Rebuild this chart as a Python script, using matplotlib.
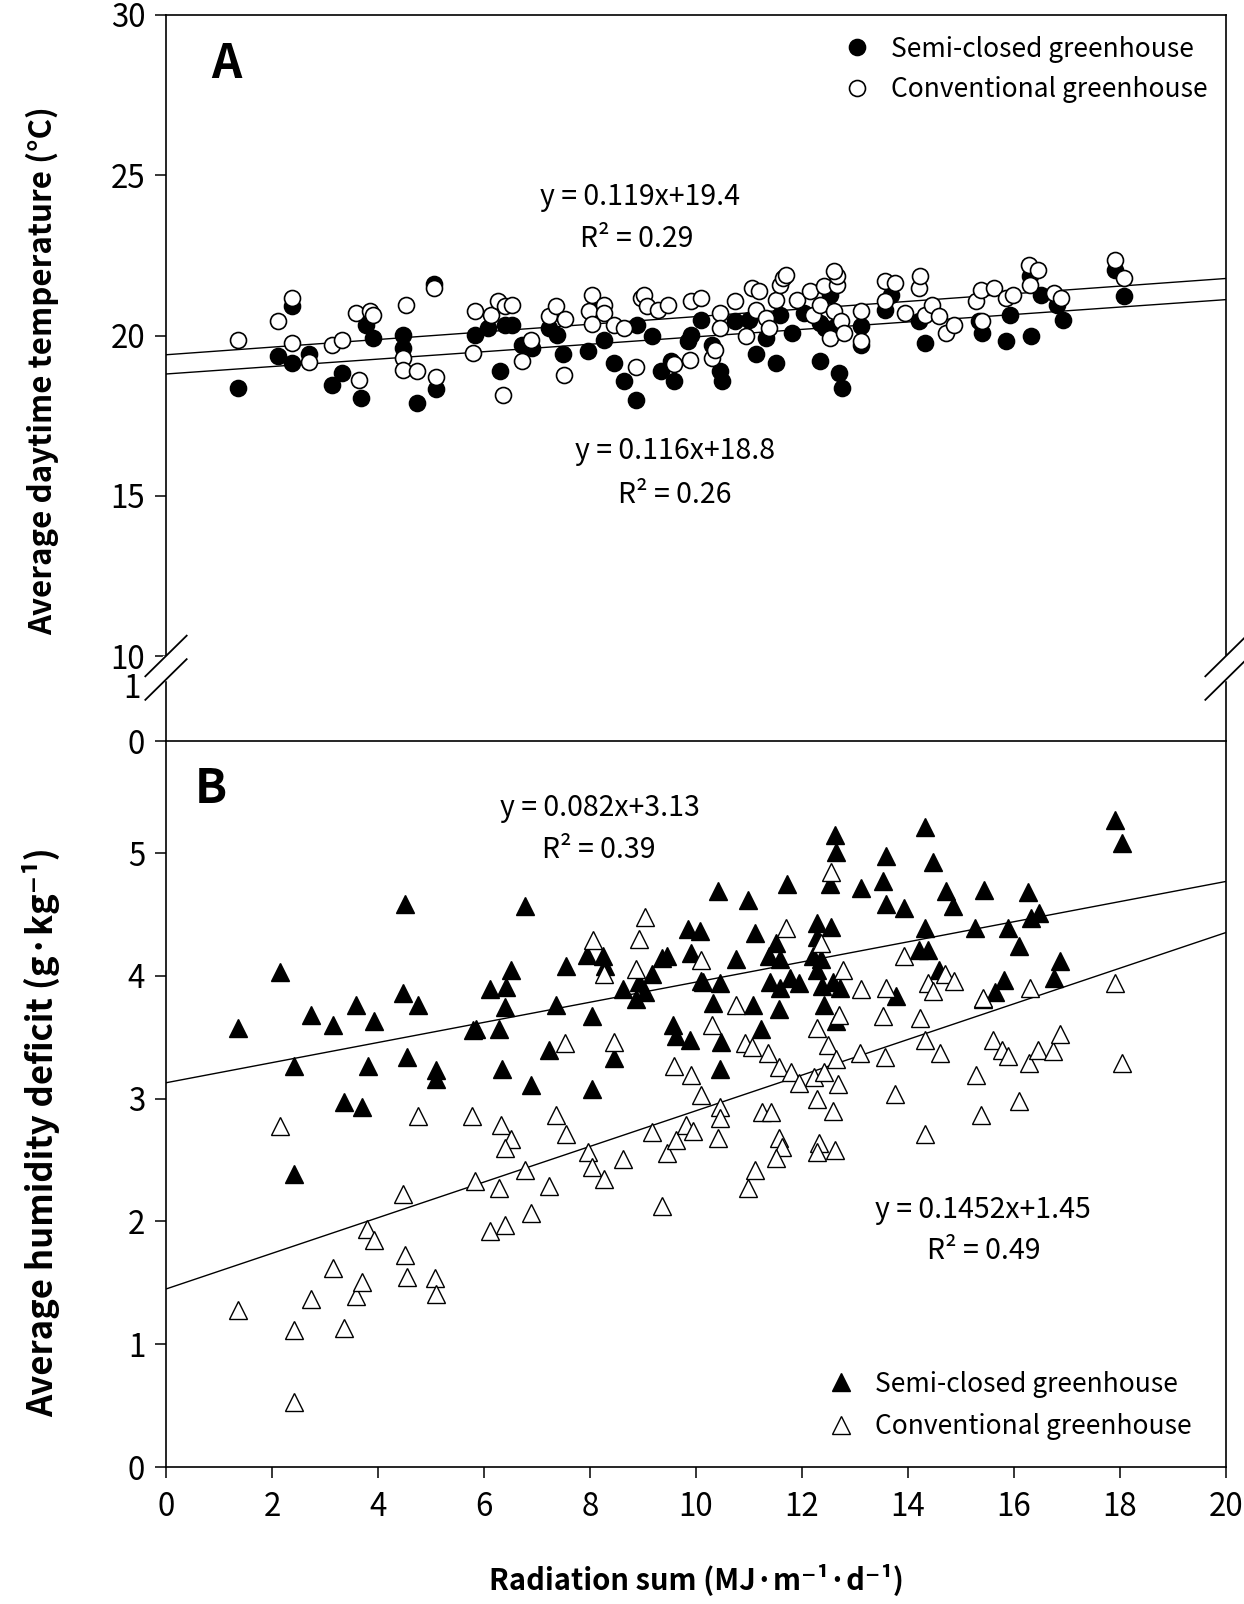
import numpy as np
import matplotlib
matplotlib.use("Agg")
import matplotlib.pyplot as plt

plt.rcParams['font.family'] = ['Noto Sans CJK KR', 'DejaVu Sans']

# ---- panel A: average daytime temperature ----
semi_x_A = [1.35, 2.12, 2.37, 2.37, 2.70, 3.14, 3.33, 3.68, 3.78, 3.91, 4.48, 4.48, 4.74, 5.06, 5.10,
            5.83, 6.08, 6.31, 6.40, 6.53, 6.72, 6.91, 7.23, 7.38, 7.49, 7.96, 8.12, 8.26, 8.45, 8.64,
            8.87, 8.89, 9.17, 9.34, 9.53, 9.59, 9.85, 9.91, 10.10, 10.30, 10.45, 10.49, 10.74, 11.00,
            11.13, 11.32, 11.51, 11.58, 11.81, 12.03, 12.34, 12.34, 12.44, 12.69, 12.76, 12.53, 12.66,
            13.11, 13.11, 13.56, 13.68, 14.20, 14.32, 15.34, 15.40, 15.85, 15.92, 16.30, 16.33, 16.50,
            16.81, 16.92, 17.90, 18.07]
semi_y_A = [18.37, 19.35, 19.15, 20.91, 19.41, 18.47, 18.84, 18.04, 20.34, 19.93, 20.03, 19.62, 17.90,
            21.61, 18.32, 20.03, 20.24, 18.89, 20.34, 20.34, 19.72, 19.62, 20.24, 20.03, 19.41, 19.51,
            20.81, 19.87, 19.15, 18.58, 18.00, 20.34, 19.98, 18.89, 19.20, 18.58, 19.82, 20.03, 20.50,
            19.72, 18.89, 18.58, 20.45, 20.50, 19.41, 19.93, 19.15, 20.65, 20.08, 20.70, 19.20, 20.39,
            20.24, 18.84, 18.37, 21.28, 20.34, 20.29, 19.72, 20.81, 21.28, 20.45, 19.77, 20.45, 20.08,
            19.82, 20.65, 21.85, 19.98, 21.28, 20.96, 20.47, 22.06, 21.22]
conv_x_A = [1.35, 2.12, 2.37, 2.37, 2.70, 3.14, 3.33, 3.59, 3.85, 3.91, 3.65, 4.48, 4.48, 4.52, 4.74,
            5.06, 5.10, 5.79, 5.83, 6.14, 6.27, 6.40, 6.53, 6.36, 6.72, 6.89, 7.23, 7.36, 7.53, 7.51,
            7.98, 8.04, 8.04, 8.26, 8.26, 8.45, 8.64, 8.87, 8.97, 9.02, 9.08, 9.28, 9.47, 9.59, 9.88,
            9.90, 10.10, 10.30, 10.36, 10.46, 10.45, 10.74, 10.94, 11.06, 11.19, 11.13, 11.32, 11.38,
            11.51, 11.58, 11.64, 11.70, 11.90, 12.15, 12.21, 12.34, 12.41, 12.53, 12.60, 12.66, 12.66,
            12.60, 12.73, 12.79, 13.11, 13.11, 13.56, 13.56, 13.75, 13.95, 14.20, 14.23, 14.32, 14.45,
            14.58, 14.71, 14.87, 15.28, 15.38, 15.40, 15.63, 15.85, 15.98, 16.28, 16.46, 16.30, 16.75,
            16.88, 17.90, 18.07]
conv_y_A = [19.85, 20.45, 21.17, 19.77, 19.18, 19.72, 19.85, 20.70, 20.76, 20.65, 18.60, 19.30, 18.94,
            20.96, 18.89, 21.48, 18.70, 19.46, 20.76, 20.65, 21.07, 20.91, 20.96, 18.16, 19.20, 19.87,
            20.60, 20.91, 20.53, 18.76, 20.76, 21.28, 20.36, 20.96, 20.70, 20.34, 20.22, 19.01, 21.17,
            21.28, 20.91, 20.81, 20.96, 19.10, 19.25, 21.07, 21.17, 19.30, 19.56, 20.70, 20.24, 21.07,
            19.98, 21.49, 21.38, 20.81, 20.55, 20.24, 21.12, 21.59, 21.80, 21.90, 21.12, 21.38, 20.65,
            20.96, 21.54, 19.93, 20.76, 21.59, 21.85, 22.00, 20.45, 20.08, 20.76, 19.82, 21.07, 21.69,
            21.64, 20.70, 21.49, 21.85, 20.65, 20.96, 20.60, 20.08, 20.34, 21.07, 21.43, 20.45, 21.49,
            21.17, 21.28, 22.21, 22.06, 21.59, 21.33, 21.17, 22.37, 21.80]

# ---- panel B: average humidity deficit ----
semi_x_B = [1.36, 2.16, 2.42, 2.42, 2.73, 3.16, 3.36, 3.59, 3.69, 3.82, 3.93, 4.50, 4.48, 4.54, 4.76,
            5.10, 5.10, 5.80, 5.85, 6.11, 6.29, 6.40, 6.41, 6.50, 6.34, 6.77, 6.89, 7.23, 7.36, 7.54,
            7.94, 8.04, 8.04, 8.25, 8.28, 8.45, 8.63, 8.87, 8.93, 9.03, 9.17, 9.36, 9.45, 9.56, 9.62,
            9.84, 9.91, 9.88, 10.07, 10.09,
            12.62, 12.65, 12.52, 14.32, 14.47, 13.59, 13.53, 13.58, 13.92, 13.12, 11.71, 10.98, 10.41,
            14.71, 14.84, 15.43, 16.27, 16.48, 16.32, 17.91, 18.04, 16.87, 16.76, 15.82, 15.64, 15.41,
            16.09, 15.88, 15.27, 14.32, 14.21, 14.37, 14.58, 13.77, 12.55, 12.29, 12.28, 12.36, 12.21,
            12.28, 12.38, 12.58, 12.71, 12.41, 12.65, 11.95, 11.78, 11.59, 11.39, 11.58, 11.38, 11.51,
            11.12, 10.76, 10.46, 10.13, 10.33, 11.07, 11.56, 11.23, 10.47, 10.46]
semi_y_B = [3.58, 4.03, 3.27, 2.39, 3.68, 3.60, 2.97, 3.76, 2.93, 3.27, 3.63, 4.59, 3.86, 3.34, 3.76,
            3.23, 3.16, 3.56, 3.57, 3.89, 3.57, 3.75, 3.91, 4.05, 3.24, 4.57, 3.11, 3.40, 3.76, 4.08,
            4.17, 3.08, 3.67, 4.16, 4.08, 3.33, 3.89, 3.81, 3.95, 3.87, 4.02, 4.15, 4.16, 3.60, 3.51,
            4.38, 4.19, 3.48, 4.37, 3.96,
            5.15, 5.01, 4.75, 5.21, 4.93, 4.98, 4.77, 4.59, 4.55, 4.72, 4.75, 4.62, 4.69,
            4.69, 4.57, 4.70, 4.68, 4.51, 4.47, 5.27, 5.08, 4.12, 3.98, 3.97, 3.87, 3.81,
            4.24, 4.39, 4.39, 4.39, 4.21, 4.21, 4.05, 3.84, 4.40, 4.43, 4.32, 4.14, 4.16,
            4.05, 3.92, 3.95, 3.90, 3.76, 3.63, 3.94, 3.98, 3.90, 3.95, 4.14, 4.16, 4.27,
            4.35, 4.14, 3.94, 3.95, 3.78, 3.76, 3.73, 3.57, 3.46, 3.24]
conv_x_B = [1.36, 2.16, 2.42, 2.42, 2.73, 3.16, 3.35, 3.59, 3.70, 3.80, 3.93, 4.48, 4.50, 4.54, 4.76,
            5.08, 5.10, 5.78, 5.83, 6.11, 6.29, 6.32, 6.50, 6.40, 6.40, 6.77, 6.89, 7.23, 7.36, 7.54,
            7.52, 7.96, 8.04, 8.06, 8.27, 8.27, 8.45, 8.63, 8.87, 8.93, 9.03, 9.17, 9.36, 9.45, 9.58,
            9.62, 9.81, 9.90, 9.94, 10.10, 10.10,
            12.54, 12.36, 11.69, 10.76, 10.31, 10.93, 11.06, 11.35, 11.56, 11.80, 11.95, 12.23, 12.41,
            12.67, 12.29, 12.58, 10.46, 10.46, 10.41, 11.24, 11.41, 11.56, 11.63, 11.51, 11.12, 10.98,
            12.32, 12.29, 12.62, 12.28, 12.49, 12.64, 12.69, 12.78, 13.12, 13.10, 13.56, 13.58, 13.53,
            13.75, 13.92, 14.23, 14.32, 14.32, 14.60, 14.37, 14.47, 14.69, 14.86, 15.28, 15.38, 15.41,
            15.60, 15.77, 15.88, 16.09, 16.29, 16.46, 16.74, 16.87, 16.31, 17.91, 18.04]
conv_y_B = [1.28, 2.78, 1.12, 0.53, 1.37, 1.62, 1.13, 1.39, 1.51, 1.94, 1.85, 2.22, 1.73, 1.55, 2.86,
            1.54, 1.41, 2.86, 2.33, 1.92, 2.27, 2.79, 2.67, 2.60, 1.97, 2.42, 2.07, 2.29, 2.87, 2.71,
            3.45, 2.57, 2.44, 4.29, 4.02, 2.35, 3.46, 2.51, 4.06, 4.30, 4.48, 2.73, 2.13, 2.56, 3.27,
            2.66, 2.79, 3.19, 2.74, 3.03, 4.13,
            4.85, 4.27, 4.39, 3.76, 3.60, 3.45, 3.42, 3.37, 3.26, 3.22, 3.13, 3.18, 3.22,
            3.12, 3.00, 2.90, 2.93, 2.84, 2.68, 2.89, 2.89, 2.68, 2.61, 2.52, 2.42, 2.27,
            2.64, 2.57, 2.58, 3.58, 3.44, 3.32, 3.68, 4.05, 3.89, 3.37, 3.34, 3.90, 3.67,
            3.04, 4.16, 3.66, 3.48, 2.71, 3.37, 3.94, 3.88, 4.02, 3.96, 3.19, 2.87, 3.82,
            3.48, 3.40, 3.35, 2.98, 3.29, 3.40, 3.39, 3.53, 3.90, 3.94, 3.29]

# regression fits shown on the chart (slope, intercept)
fit_semi_A = (0.116, 18.8)
fit_conv_A = (0.119, 19.4)
fit_semi_B = (0.082, 3.13)
fit_conv_B = (0.1452, 1.45)

series_labels = ["Semi-closed greenhouse", "Conventional greenhouse"]

W, H = 1244, 1604
fig = plt.figure(figsize=(W / 100, H / 100), dpi=100)


def box(l, t, r, b):
    return [l / W, 1 - b / H, (r - l) / W, (b - t) / H]


axA = fig.add_axes(box(166, 15, 1226, 741))
axB = fig.add_axes(box(166, 741, 1226, 1467), sharex=axA)

TICK = 22.5
EQ = 20.5
MS_C = 11.5
MS_T = 13
xl = np.array([0, 20])

for ax in (axA, axB):
    for s in ax.spines.values():
        s.set_linewidth(1.2)
    ax.tick_params(direction="out", length=8, width=1.1, labelsize=TICK, pad=7,
                   right=False, top=False)

# panel A
for (m, c) in (fit_semi_A, fit_conv_A):
    axA.plot(xl, m * xl + c, color="black", lw=1.0, zorder=1)
axA.plot(semi_x_A, semi_y_A, "o", ms=MS_C, mfc="black", mec="black", mew=1.2, zorder=2,
         label=series_labels[0])
axA.plot(conv_x_A, conv_y_A, "o", ms=MS_C, mfc="white", mec="black", mew=1.2, zorder=3,
         label=series_labels[1])
axA.set_xlim(0, 20)
axA.set_ylim(7.35, 30)
axA.set_yticks([10, 15, 20, 25, 30])
axA.spines["bottom"].set_visible(False)
axA.tick_params(bottom=False, labelbottom=False)
axA.set_ylabel("Average daytime temperature (°C)", fontsize=22.5, fontweight="bold")
axA.yaxis.label.set_va("center")
axA.yaxis.set_label_coords(-0.116, 0.51)
axA.text(0.057, 0.933, "A", transform=axA.transAxes, fontsize=34, fontweight="bold",
         ha="center", va="center")
axA.text(0.447, 0.749, "y = 0.119x+19.4", transform=axA.transAxes, fontsize=EQ, ha="center", va="center")
axA.text(0.444, 0.692, "R² = 0.29", transform=axA.transAxes, fontsize=EQ, ha="center", va="center")
axA.text(0.480, 0.399, "y = 0.116x+18.8", transform=axA.transAxes, fontsize=EQ, ha="center", va="center")
axA.text(0.480, 0.339, "R² = 0.26", transform=axA.transAxes, fontsize=EQ, ha="center", va="center")
axA.legend(loc="upper right", bbox_to_anchor=(1.0, 0.997), frameon=False, fontsize=19,
           handlelength=0.8, handletextpad=0.9, labelspacing=0.5, borderaxespad=0.3)
axA.text(-0.024, 0.072, "1", transform=axA.transAxes, fontsize=TICK, ha="right", va="center")

# axis break marks
y_gap = (0.0847, 0.1171)
for xs in (0.0, 1.0):
    axA.fill_between([xs - 0.003, xs + 0.003], y_gap[0], y_gap[1], color="white",
                     transform=axA.transAxes, clip_on=False, zorder=5)
    for y0 in y_gap:
        axA.plot([xs - 0.0195, xs + 0.0195], [y0 - 0.028, y0 + 0.028], color="black", lw=1.3,
                 transform=axA.transAxes, clip_on=False, zorder=6)

# panel B
for (m, c) in (fit_semi_B, fit_conv_B):
    axB.plot(xl, m * xl + c, color="black", lw=1.0, zorder=1)
axB.plot(semi_x_B, semi_y_B, "^", ms=MS_T, mfc="black", mec="black", mew=1.0, zorder=2,
         label=series_labels[0])
axB.plot(conv_x_B, conv_y_B, "^", ms=MS_T, mfc="white", mec="black", mew=1.0, zorder=3,
         label=series_labels[1])
axB.set_ylim(0, 5.914)
axB.set_yticks([0, 1, 2, 3, 4, 5, 5.914])
axB.set_yticklabels(["0", "1", "2", "3", "4", "5", "0"])
axB.set_xticks(range(0, 21, 2))
axB.tick_params(axis="x", pad=9)
axB.set_ylabel("Average humidity deficit (g·kg⁻¹)", fontsize=25, fontweight="bold")
axB.yaxis.label.set_va("center")
axB.yaxis.set_label_coords(-0.118, 0.461)
axB.set_xlabel("Radiation sum (MJ·m⁻¹·d⁻¹)", fontsize=21, fontweight="bold", labelpad=29)
axB.text(0.042, 0.934, "B", transform=axB.transAxes, fontsize=34, fontweight="bold",
         ha="center", va="center")
axB.text(0.409, 0.908, "y = 0.082x+3.13", transform=axB.transAxes, fontsize=EQ, ha="center", va="center")
axB.text(0.408, 0.850, "R² = 0.39", transform=axB.transAxes, fontsize=EQ, ha="center", va="center")
axB.text(0.771, 0.354, "y = 0.1452x+1.45", transform=axB.transAxes, fontsize=EQ, ha="center", va="center")
axB.text(0.771, 0.297, "R² = 0.49", transform=axB.transAxes, fontsize=EQ, ha="center", va="center")
axB.legend(loc="lower right", bbox_to_anchor=(0.985, 0.012), frameon=False, fontsize=19,
           handlelength=0.8, handletextpad=0.9, labelspacing=0.58, borderaxespad=0.3)

fig.savefig("out.png", dpi=100)
